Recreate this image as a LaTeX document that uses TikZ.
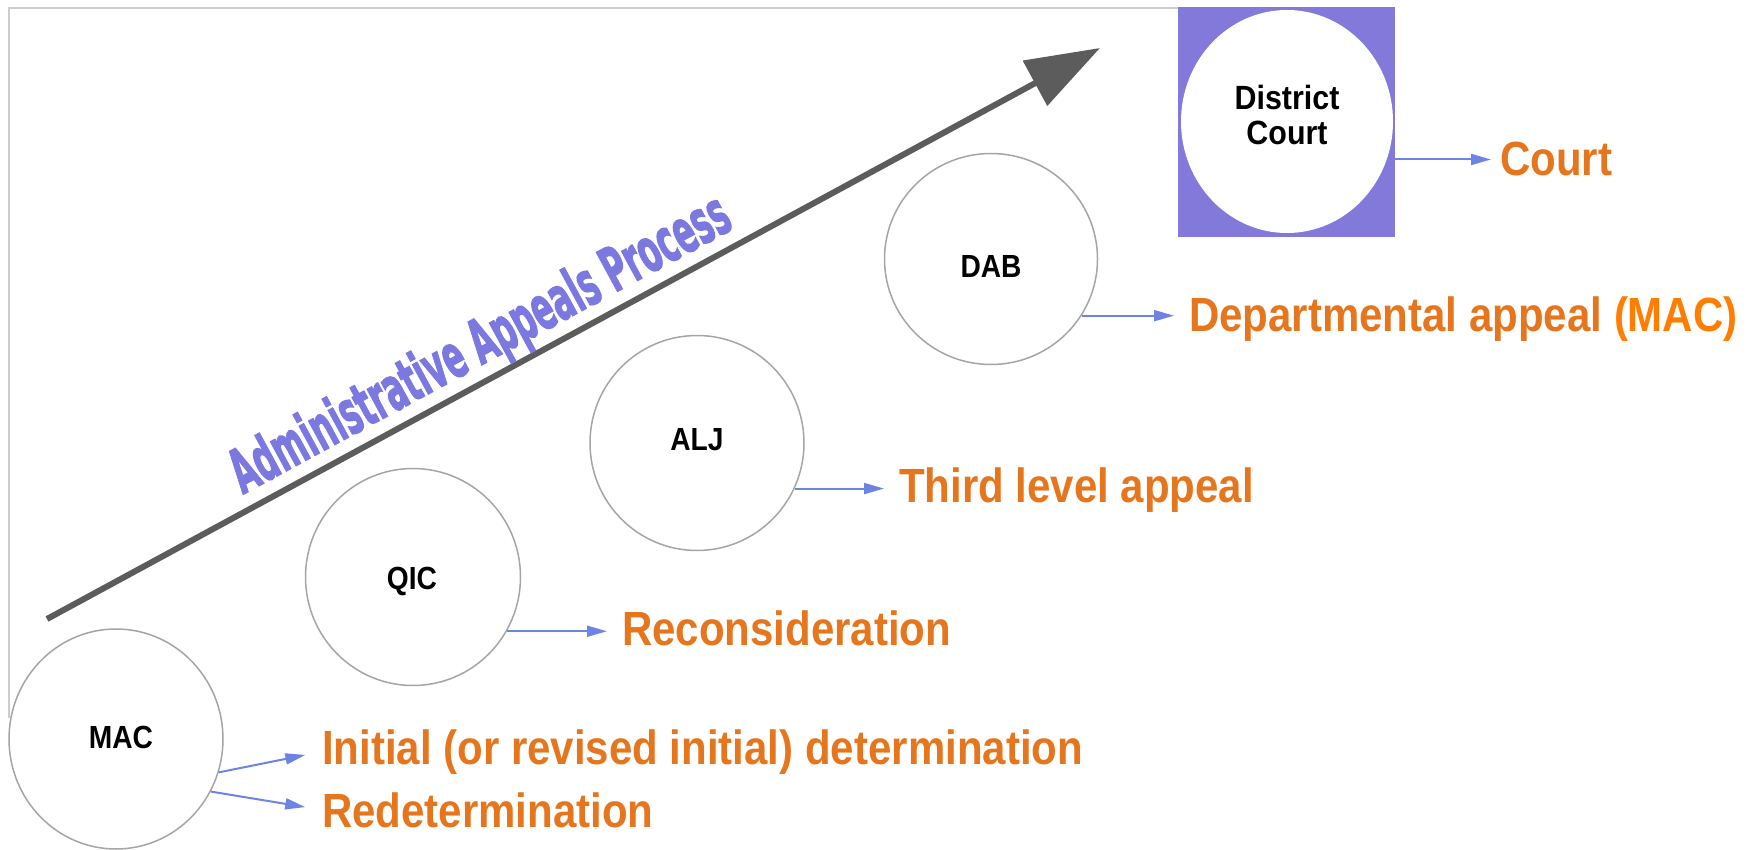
\documentclass[tikz,border=0pt]{standalone}
\usepackage{fontspec}
\usepackage{graphicx}
\setmainfont{Liberation Sans}
\newfontfamily\admfont{DejaVu Sans}[BoldFeatures={FakeBold=2.5}]
\usetikzlibrary{arrows.meta,shapes.geometric}
\definecolor{boxpurple}{RGB}{131,121,219}
\definecolor{admblue}{RGB}{123,120,224}
\definecolor{arrowblue}{RGB}{110,132,228}
\definecolor{orangetext}{RGB}{230,118,30}
\definecolor{orangebright}{RGB}{255,125,0}
\definecolor{circgray}{RGB}{165,165,165}
\definecolor{framegray}{RGB}{205,205,205}
\definecolor{arrowgray}{RGB}{92,92,92}
\begin{document}
\begin{tikzpicture}[x=1pt,y=-1pt,
  circ/.style={ellipse, draw=circgray, line width=1.5pt, fill=white, inner sep=0pt},
  blab/.style={font=\fontsize{32}{33}\selectfont\bfseries, inner sep=0pt, text=black},
  otext/.style={font=\fontsize{48}{48}\selectfont\bfseries, text=orangetext, inner sep=0pt, anchor=base west},
  barrow/.style={draw=arrowblue, line width=2pt, -{Triangle[length=20pt,width=11pt]}, shorten >=15pt},
  bigarrow/.style={draw=arrowgray, line width=6pt, -{Triangle[length=74pt,width=50pt]}},
  frame/.style={draw=framegray, line width=2.5pt}]
\useasboundingbox (0,0) rectangle (1756,850);

% District court box
\node[fill=boxpurple, minimum width=217pt, minimum height=230pt, inner sep=0pt] (dbox) at (1286.5,122) {};
\node[ellipse, fill=white, minimum width=212pt, minimum height=223pt, inner sep=0pt] (dc) at (1287,121.5) {};
\node[blab, align=center] (dcl) at (1287,120) {\scalebox{0.95}[1.05]{\begin{tabular}{@{}c@{}}District\\Court\end{tabular}}};

% frame
\draw[frame] (dbox.west |- 0,8) -- (9,8) -- (9,718);

% circles
\node[circ, minimum width=214pt, minimum height=220pt] (mac) at (116,739) {};
\node[circ, minimum width=215pt, minimum height=217pt] (qic) at (413,577) {};
\node[circ, minimum width=214pt, minimum height=215pt] (alj) at (697,443) {};
\node[circ, minimum width=213pt, minimum height=211pt] (dab) at (991,259) {};

\node[blab] (macl) at (121,737) {\scalebox{0.88}[1]{MAC}};
\node[blab] (qicl) at (412,581) {\scalebox{0.88}[1]{QIC}};
\node[blab] (aljl) at (697,440) {\scalebox{0.88}[1]{ALJ}};
\node[blab] (dabl) at (991,266) {\scalebox{0.88}[1]{DAB}};

% big arrow and its text
\coordinate (ps) at (47,619);
\coordinate (pe) at (1100,48);
\draw[bigarrow] (ps) -- (pe);
\node[anchor=base, rotate=28.47, inner sep=0pt, text=admblue] (adm) at (489,361)
  {\resizebox{560pt}{46pt}{\admfont\bfseries Administrative Appeals Process}};

% orange texts
\node[otext] (court) at (1500,176) {\scalebox{0.875}[1]{Court}};
\node[otext] (dept) at (1189,331) {\scalebox{0.875}[1]{Departmental appeal \textcolor{orangebright}{(MAC)}}};
\node[otext] (third) at (899,502) {\scalebox{0.875}[1]{Third level appeal}};
\node[otext] (recon) at (622,645) {\scalebox{0.875}[1]{Reconsideration}};
\node[otext] (init) at (322,764) {\scalebox{0.875}[1]{Initial (or revised initial) determination}};
\node[otext] (redet) at (322,827) {\scalebox{0.875}[1]{Redetermination}};

% blue arrows
\draw[barrow, shorten >=9pt] (dbox.east |- court.west) -- (court.west);
\draw[barrow] (dab.-32) -- (dab.-32 -| dept.west);
\draw[barrow] (alj.-25) -- (alj.-25 -| third.west);
\draw[barrow] (qic.-30) -- (qic.-30 -| recon.west);
\draw[barrow, shorten >=17pt] (mac.-18) -- (init.west);
\draw[barrow, shorten >=17pt] (mac.-29) -- (redet.west);
\end{tikzpicture}
\end{document}
